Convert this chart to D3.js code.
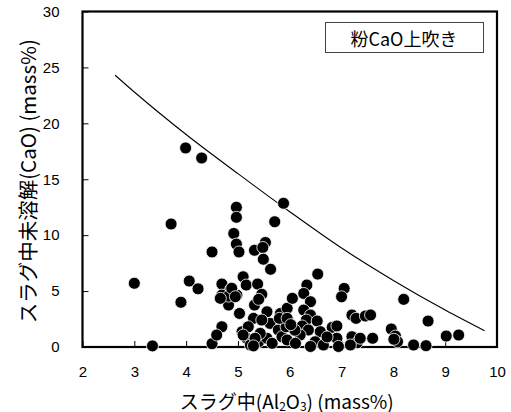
<!DOCTYPE html>
<html>
<head>
<meta charset="utf-8">
<script src="https://cdn.jsdelivr.net/npm/d3@7"></script>
<style>
  html, body { margin: 0; padding: 0; background: #fff; }
  svg { display: block; }
</style>
</head>
<body>
<script>
// Al2O3 content in slag (mass%)
const al2o3 = [
  3.00, 3.35, 3.71, 3.90, 4.06, 4.23, 3.99, 4.30, 4.50, 4.50,
  5.88, 5.71, 4.97, 4.97, 4.92, 4.97, 5.02, 5.32, 5.53, 5.48,
  5.49, 5.63, 4.69, 4.86, 5.10, 5.16, 5.38, 5.46, 4.69, 4.82,
  4.98, 5.03, 5.32, 5.40, 5.30, 5.56, 4.69, 4.59, 5.08, 5.20,
  5.17, 5.24, 5.40, 5.56, 5.43, 5.62, 5.82, 5.78, 5.66, 5.85,
  5.93, 4.82, 4.88, 4.66, 4.95, 5.46, 5.80, 5.95, 6.05, 5.33,
  5.10, 5.30, 6.54, 7.05, 7.00, 6.33, 6.27, 6.40, 5.95, 6.27,
  6.40, 6.32, 6.53, 6.82, 6.91, 7.20, 7.28, 7.46, 6.24, 6.36,
  6.59, 6.20, 5.95, 6.11, 6.49, 6.65, 6.91, 7.20, 7.30, 7.17,
  6.94, 6.40, 8.20, 8.67, 9.02, 9.26, 7.56, 7.60, 7.96, 8.04,
  8.08, 8.01, 8.39, 8.63, 7.36, 6.10, 6.72, 6.02
];
// Undissolved CaO in slag (mass%)
const caoUndissolved = [
  5.70, 0.10, 11.00, 4.00, 5.90, 5.20, 17.80, 16.90, 8.50, 0.30,
  12.85, 11.20, 12.50, 11.60, 10.15, 9.20, 8.50, 8.65, 9.35, 8.90,
  7.85, 6.95, 5.63, 5.15, 6.28, 5.54, 5.63, 4.71, 4.64, 3.75,
  4.64, 3.00, 3.75, 4.26, 2.56, 3.15, 1.81, 1.07, 1.37, 1.81,
  0.78, 0.18, 0.47, 0.78, 1.22, 2.11, 3.00, 1.52, 0.33, 0.92,
  1.81, 4.55, 5.25, 4.35, 4.50, 2.41, 2.56, 3.46, 4.35, 0.78,
  1.07, 0.10, 6.52, 5.24, 4.49, 5.54, 4.79, 4.05, 2.56, 3.30,
  2.86, 2.41, 2.32, 1.76, 1.88, 2.86, 2.56, 2.77, 1.88, 1.52,
  1.37, 1.07, 0.63, 0.33, 0.47, 0.18, 0.78, 0.92, 0.38, 0.18,
  0.05, 0.05, 4.26, 2.32, 0.98, 1.07, 2.86, 0.78, 1.61, 0.98,
  0.47, 0.69, 0.18, 0.12, 0.78, 1.50, 0.90, 2.00
];
// Upper-limit curve
const limitX = [2.63, 3.0, 4.0, 5.0, 6.0, 7.0, 8.0, 9.0, 9.76];
const limitY = [24.3, 22.8, 19.0, 15.5, 12.1, 8.85, 5.95, 3.3, 1.45];

const xTicks = [2, 3, 4, 5, 6, 7, 8, 9, 10];
const yTicks = [0, 5, 10, 15, 20, 25, 30];
const legendLabel = "粉CaO上吹き";

const W = 511, H = 412;
const margin = { left: 82.5, right: 14, top: 11.5, bottom: 65 };
const svg = d3.select("body").append("svg").attr("width", W).attr("height", H);

const x = d3.scaleLinear().domain([2, 10]).range([margin.left, W - margin.right]);
const y = d3.scaleLinear().domain([0, 30]).range([H - margin.bottom, margin.top]);

const numFont = "'Liberation Sans', Arial, sans-serif";
const jpFont = "'Noto Sans CJK JP', 'Noto Sans', sans-serif";

// Bottom axis with inward ticks
const xAxis = svg.append("g")
  .attr("transform", `translate(0,${y(0)})`)
  .call(d3.axisBottom(x).tickValues(xTicks).tickSizeInner(-6).tickSizeOuter(0).tickPadding(19));
// Left axis with inward ticks
const yAxis = svg.append("g")
  .attr("transform", `translate(${x(2)},0)`)
  .call(d3.axisLeft(y).tickValues(yTicks).tickSizeInner(-6).tickSizeOuter(0).tickPadding(23));

[xAxis, yAxis].forEach(g => {
  g.select(".domain").remove();
  g.selectAll(".tick line").attr("stroke", "#000").attr("stroke-width", 1);
  g.selectAll(".tick text").attr("fill", "#000").style("font-family", numFont).style("font-size", "15px");
});

// Plot frame
svg.append("rect")
  .attr("x", x(2)).attr("y", y(30))
  .attr("width", x(10) - x(2)).attr("height", y(0) - y(30))
  .attr("fill", "none").attr("stroke", "#000").attr("stroke-width", 2.2);

// Upper-limit curve
const curvePts = limitX.map((v, i) => [v, limitY[i]]);
svg.append("path")
  .datum(curvePts)
  .attr("fill", "none").attr("stroke", "#000").attr("stroke-width", 1.1)
  .attr("d", d3.line().x(d => x(d[0])).y(d => y(d[1])).curve(d3.curveMonotoneX));

// Scatter points
const pts = al2o3.map((v, i) => [v, caoUndissolved[i]]);
svg.append("g").selectAll("circle")
  .data(pts).join("circle")
  .attr("cx", d => x(d[0])).attr("cy", d => y(d[1]))
  .attr("r", 6).attr("fill", "#000")
  .attr("stroke", "#fff").attr("stroke-width", 0.8);

// Legend box
const lg = svg.append("g");
lg.append("rect")
  .attr("x", 325.5).attr("y", 22.5).attr("width", 158).attr("height", 30)
  .attr("fill", "#fff").attr("stroke", "#444").attr("stroke-width", 1);
lg.append("text")
  .attr("x", 404).attr("y", 38).attr("text-anchor", "middle").attr("dominant-baseline", "central")
  .style("font-family", jpFont).style("font-size", "18px").attr("fill", "#000")
  .text(legendLabel);

// Axis titles
const xt = svg.append("text")
  .attr("x", (x(2) + x(10)) / 2 - 3).attr("y", 400)
  .attr("text-anchor", "middle").attr("dominant-baseline", "central")
  .style("font-family", jpFont).style("font-size", "19px").attr("fill", "#000");
xt.append("tspan").text("スラグ中(Al");
xt.append("tspan").attr("dy", 5).style("font-size", "12px").text("2");
xt.append("tspan").attr("dy", -5).text("O");
xt.append("tspan").attr("dy", 5).style("font-size", "12px").text("3");
xt.append("tspan").attr("dy", -5).text(") (mass%)");

svg.append("text")
  .attr("transform", `translate(27,${(y(0) + y(30)) / 2 + 2}) rotate(-90)`)
  .attr("text-anchor", "middle").attr("dominant-baseline", "central")
  .style("font-family", jpFont).style("font-size", "20.5px").attr("fill", "#000")
  .text("スラグ中未溶解(CaO) (mass%)");
</script>
</body>
</html>
